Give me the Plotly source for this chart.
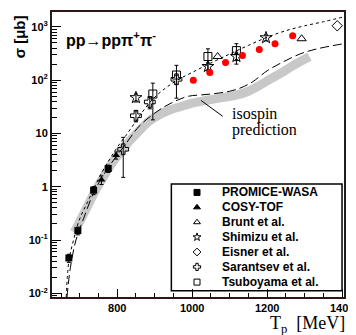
import plotly.graph_objects as go

# ---------------- data ----------------
promice_x = [671, 695, 737, 776]
promice_y = [0.046, 0.15, 0.86, 2.2]
promice_e = [0.008, 0.025, 0.15, 0.35]

cosy_x = [758, 797]
cosy_y = [1.35, 3.9]
cosy_e = [0.25, 0.6]

brunt_x = [1068, 1292]
brunt_y = [278, 600]

shimizu_x = [850, 1042, 1118, 1197]
shimizu_y = [47, 181, 278, 626]
shimizu_e = [8, 30, 45, 80]

eisner_x = [1387]
eisner_y = [1050]

sarantsev_x = [816, 850, 887, 958]
sarantsev_y = [5.05, 21.5, 39, 104]
sarantsev_up = [3.4, 5, 10, 20]
sarantsev_dn = [3.55, 5, 10, 20]

tsuboyama_x = [895, 958, 1042, 1118]
tsuboyama_y = [55, 125, 278, 359]
tsuboyama_up = [33, 65, 110, 125]
tsuboyama_dn = [37, 79, 128, 159]

new_x = [1003, 1047, 1089, 1134, 1179, 1221, 1268]
new_y = [100, 140, 215, 290, 375, 485, 680]

upper_x = [664, 671, 685, 700, 720, 740, 760, 780, 800, 825, 850, 875, 900, 930, 960,
           1000, 1050, 1100, 1150, 1200, 1250, 1300, 1350, 1405]
upper_y = [0.0085, 0.04, 0.11, 0.25, 0.5, 1.0, 1.9, 3.3, 5.5, 9.5, 17, 30, 48, 72, 100,
           140, 210, 310, 450, 640, 850, 1050, 1250, 1550]

lower_x = [666, 675, 690, 710, 740, 780, 820, 860, 900, 930, 960, 990, 1025, 1060, 1100,
           1130, 1160, 1200, 1245, 1290, 1335, 1405]
lower_y = [0.0085, 0.03, 0.1, 0.25, 0.85, 2.5, 6, 14, 24, 33, 42, 50, 53, 56, 62,
           72, 92, 150, 225, 315, 390, 485]

band_x = [685, 700, 720, 740, 760, 785, 810, 835, 860, 885, 910, 940, 970, 1000, 1040,
          1080, 1120, 1150, 1180, 1210, 1240, 1270, 1313]
band_y = [0.14, 0.22, 0.42, 0.8, 1.4, 2.7, 4.6, 7.5, 11.5, 17, 22, 27.5, 32, 37, 42,
          47, 53, 62, 80, 107, 140, 190, 275]

xtick_vals = [800, 1000, 1200, 1400]
xtick_text = ["800", "1000", "1200", "1400"]
ytick_vals = [0.01, 0.1, 1, 10, 100, 1000]
ytick_text = ["10<sup>-2</sup>", "10<sup>-1</sup>", "1", "10", "10<sup>2</sup>", "10<sup>3</sup>"]

legend_names = ["PROMICE-WASA", "COSY-TOF", "Brunt et al.", "Shimizu et al.",
                "Eisner et al.", "Sarantsev et al.", "Tsuboyama et al."]
legend_symbols = ["square", "triangle-up", "triangle-up-open", "star-open",
                  "diamond-open", "cross-open", "square-open"]

# ---------------- geometry (window pixels) ----------------
OFF = 8                      # default body margin of the html page
WIN_W, WIN_H = 356, 335
L, R, T, B = 52, 8, 10, 38   # plot area in window pixels
PW, PH = WIN_W - L - R, WIN_H - T - B
W, H = WIN_W - OFF, WIN_H - OFF


def px2paper(px, py):
    return (px - L) / PW, (WIN_H - B - py) / PH


fig = go.Figure()

fig.add_trace(go.Scatter(x=band_x, y=band_y, mode="lines",
                         line=dict(color="rgb(200,200,200)", width=9, shape="spline"),
                         showlegend=False, hoverinfo="skip"))
fig.add_trace(go.Scatter(x=lower_x, y=lower_y, mode="lines",
                         line=dict(color="black", width=1, dash="9px,4px", shape="spline"), showlegend=False))
fig.add_trace(go.Scatter(x=upper_x, y=upper_y, mode="lines",
                         line=dict(color="black", width=1, dash="3px,3px", shape="spline"), showlegend=False))

ebar = dict(type="data", thickness=1, width=2, color="black")

fig.add_trace(go.Scatter(x=sarantsev_x, y=sarantsev_y, mode="markers",
                         marker=dict(symbol="cross-open", size=9, color="black", line=dict(width=1)),
                         error_y=dict(array=sarantsev_up, arrayminus=sarantsev_dn, **ebar), showlegend=False))
fig.add_trace(go.Scatter(x=tsuboyama_x, y=tsuboyama_y, mode="markers",
                         marker=dict(symbol="square-open", size=8, color="black", line=dict(width=1)),
                         error_y=dict(array=tsuboyama_up, arrayminus=tsuboyama_dn, **ebar), showlegend=False))
fig.add_trace(go.Scatter(x=shimizu_x, y=shimizu_y, mode="markers",
                         marker=dict(symbol="star-open", size=9, color="black", line=dict(width=1)),
                         error_y=dict(array=shimizu_e, **ebar), showlegend=False))
fig.add_trace(go.Scatter(x=brunt_x, y=brunt_y, mode="markers",
                         marker=dict(symbol="triangle-up-open", size=8, color="black", line=dict(width=1)),
                         showlegend=False))
fig.add_trace(go.Scatter(x=eisner_x, y=eisner_y, mode="markers",
                         marker=dict(symbol="diamond-open", size=8, color="black", line=dict(width=1)),
                         showlegend=False))
fig.add_trace(go.Scatter(x=promice_x, y=promice_y, mode="markers",
                         marker=dict(symbol="square", size=7, color="black"),
                         error_y=dict(array=promice_e, **ebar), showlegend=False))
fig.add_trace(go.Scatter(x=cosy_x, y=cosy_y, mode="markers",
                         marker=dict(symbol="triangle-up", size=7, color="black"),
                         error_y=dict(array=cosy_e, **ebar), showlegend=False))
fig.add_trace(go.Scatter(x=new_x, y=new_y, mode="markers",
                         marker=dict(symbol="circle", size=7, color="red"), showlegend=False))

# ---- legend drawn on an overlay paper-like axis ----
row_py = [191.7, 206.7, 221.7, 236.7, 251.7, 266.7, 282.0]
leg_mx = []
leg_my = []
for py in row_py:
    xx, yy = px2paper(199, py)
    leg_mx.append(xx)
    leg_my.append(yy)
for i, sym in enumerate(legend_symbols):
    fig.add_trace(go.Scatter(x=[leg_mx[i]], y=[leg_my[i]], xaxis="x2", yaxis="y2", mode="markers",
                             marker=dict(symbol=sym, size=6, color="black", line=dict(width=1, color="black")),
                             showlegend=False, hoverinfo="skip"))

bx0, by0 = px2paper(173, 290.7)
bx1, by1 = px2paper(346, 183.3)
shapes = [dict(type="rect", xref="paper", yref="paper", x0=bx0, y0=by0, x1=bx1, y1=by1,
               line=dict(color="black", width=1.5), fillcolor="white", layer="below")]
lx0, ly0 = px2paper(225, 115)
lx1, ly1 = px2paper(203, 99)
shapes.append(dict(type="line", xref="paper", yref="paper", x0=lx0, y0=ly0, x1=lx1, y1=ly1,
                   line=dict(color="black", width=1)))

annotations = []
tx, _ = px2paper(222, 0)
for name, yy in zip(legend_names, leg_my):
    annotations.append(dict(xref="paper", yref="paper", x=tx, y=yy, xanchor="left", yanchor="middle",
                            text=name, showarrow=False,
                            font=dict(family="Liberation Sans, Arial", size=12, color="black", weight="bold")))

ax_, ay_ = px2paper(232, 112.5)
annotations.append(dict(xref="paper", yref="paper", x=ax_, y=ay_, xanchor="left", yanchor="middle",
                        text="isospin", showarrow=False,
                        font=dict(family="Liberation Serif, Times New Roman", size=16, color="black")))
ax_, ay_ = px2paper(232, 128.5)
annotations.append(dict(xref="paper", yref="paper", x=ax_, y=ay_, xanchor="left", yanchor="middle",
                        text="prediction", showarrow=False,
                        font=dict(family="Liberation Serif, Times New Roman", size=16, color="black")))

ax_, ay_ = px2paper(64, 37)
annotations.append(dict(xref="paper", yref="paper", x=ax_, y=ay_, xanchor="left", yanchor="middle",
                        text="pp\u2192pp\u03c0<sup>+</sup>\u03c0<sup>-</sup>", showarrow=False,
                        font=dict(family="Liberation Sans, Arial", size=16, color="black", weight="bold")))

ax_, ay_ = px2paper(19, 35)
annotations.append(dict(xref="paper", yref="paper", x=ax_, y=ay_, xanchor="center", yanchor="middle",
                        text="\u03c3 [\u03bcb]", textangle=-90, showarrow=False,
                        font=dict(family="Liberation Sans, Arial", size=15, color="black", weight="bold")))

ax_, ay_ = px2paper(351, 325)
annotations.append(dict(xref="paper", yref="paper", x=ax_, y=ay_, xanchor="right", yanchor="middle",
                        text="T<sub>p</sub>  [MeV]", showarrow=False,
                        font=dict(family="Liberation Serif, Times New Roman", size=18, color="black")))

tickfont = dict(family="Liberation Sans, Arial", size=11, color="black", weight="bold")

minor_y = [m * 10 ** e for e in range(-3, 4) for m in range(2, 10)]

fig.update_layout(
    width=W, height=H,
    margin=dict(l=L - OFF, r=R, t=T - OFF, b=B, pad=0),
    paper_bgcolor="white", plot_bgcolor="white",
    showlegend=False,
    shapes=shapes, annotations=annotations,
    xaxis=dict(range=[626, 1405], tickvals=xtick_vals, ticktext=xtick_text, ticks="inside", ticklen=8,
               tickwidth=1, tickcolor="black", showgrid=False, zeroline=False,
               showline=True, linecolor="rgb(50,20,20)", linewidth=2, mirror=True,
               ticklabeloverflow="allow",
               minor=dict(ticks="inside", ticklen=4, dtick=50, tick0=800, tickcolor="black", showgrid=False),
               tickfont=tickfont),
    yaxis=dict(type="log", range=[-2.07, 3.28], tickvals=ytick_vals, ticktext=ytick_text, ticks="inside",
               ticklen=9, tickwidth=1, tickcolor="black", showgrid=False, zeroline=False,
               showline=True, linecolor="rgb(30,30,30)", linewidth=2, mirror=True,
               minor=dict(ticks="inside", ticklen=5, tickvals=minor_y, tickcolor="black", showgrid=False),
               tickfont=tickfont),
    xaxis2=dict(overlaying="x", range=[0, 1], visible=False),
    yaxis2=dict(overlaying="y", range=[0, 1], visible=False),
)

fig.write_html("out.html")
